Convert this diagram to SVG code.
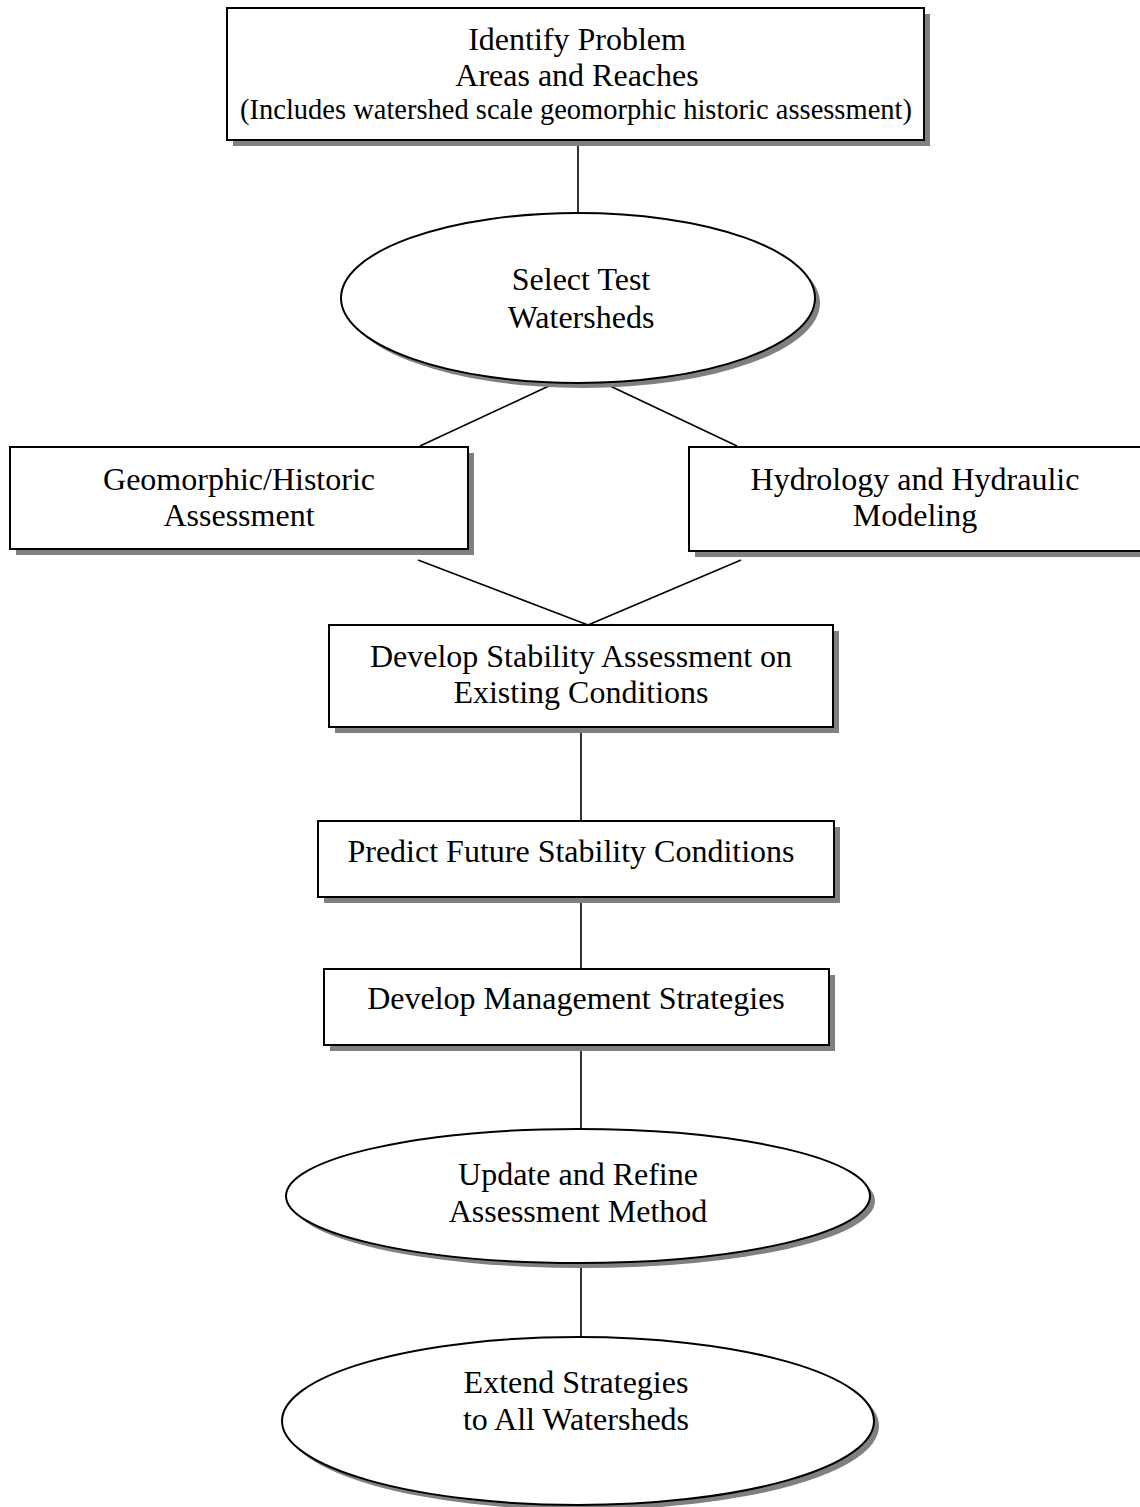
<svg xmlns="http://www.w3.org/2000/svg" width="1140" height="1507" viewBox="0 0 1140 1507">
<style>
.sh{fill:#808080;stroke:none}
.nd{fill:#fff;stroke:#000;stroke-width:2}
.t{font-family:"Liberation Serif","Times New Roman",serif;font-size:32px;fill:#000;text-anchor:middle}
.s{font-size:28.5px}
.c{stroke:#000;stroke-width:1.6;fill:none}
</style>
<rect width="1140" height="1507" fill="#fff"/>
<g id="connectors">
<line class="c" x1="578" y1="140" x2="578" y2="220"/>
<line class="c" x1="551" y1="385" x2="420" y2="446"/>
<line class="c" x1="608" y1="385" x2="737" y2="446"/>
<line class="c" x1="418" y1="560" x2="588" y2="625"/>
<line class="c" x1="741" y1="560" x2="588" y2="625"/>
<line class="c" x1="581" y1="733" x2="581" y2="821"/>
<line class="c" x1="581" y1="903" x2="581" y2="969"/>
<line class="c" x1="581" y1="1051" x2="581" y2="1130"/>
<line class="c" x1="581" y1="1268" x2="581" y2="1338"/>
</g>
<g id="n1">
<rect class="sh" x="233" y="14" width="697" height="132"/>
<rect class="nd" x="227" y="8" width="697" height="132"/>
<text class="t" x="577" y="50">Identify Problem</text>
<text class="t" x="577" y="86">Areas and Reaches</text>
<text class="t s" x="576" y="119">(Includes watershed scale geomorphic historic assessment)</text>
</g>
<g id="n2">
<ellipse class="sh" cx="583" cy="303" rx="237" ry="85"/>
<ellipse class="nd" cx="578" cy="298" rx="237" ry="85"/>
<text class="t" x="581" y="290">Select Test</text>
<text class="t" x="581" y="328">Watersheds</text>
</g>
<g id="n3">
<rect class="sh" x="16" y="453" width="458" height="102"/>
<rect class="nd" x="10" y="447" width="458" height="102"/>
<text class="t" x="239" y="490">Geomorphic/Historic</text>
<text class="t" x="239" y="526">Assessment</text>
</g>
<g id="n4">
<rect class="sh" x="695" y="453" width="460" height="104"/>
<rect class="nd" x="689" y="447" width="460" height="104"/>
<text class="t" x="915" y="490">Hydrology and Hydraulic</text>
<text class="t" x="915" y="526">Modeling</text>
</g>
<g id="n5">
<rect class="sh" x="335" y="631" width="504" height="102"/>
<rect class="nd" x="329" y="625" width="504" height="102"/>
<text class="t" x="581" y="667">Develop Stability Assessment on</text>
<text class="t" x="581" y="703">Existing Conditions</text>
</g>
<g id="n6">
<rect class="sh" x="324" y="827" width="516" height="76"/>
<rect class="nd" x="318" y="821" width="516" height="76"/>
<text class="t" x="571" y="862">Predict Future Stability Conditions</text>
</g>
<g id="n7">
<rect class="sh" x="330" y="975" width="505" height="76"/>
<rect class="nd" x="324" y="969" width="505" height="76"/>
<text class="t" x="576" y="1009">Develop Management Strategies</text>
</g>
<g id="n8">
<ellipse class="sh" cx="583" cy="1201" rx="292" ry="67"/>
<ellipse class="nd" cx="578" cy="1196" rx="292" ry="67"/>
<text class="t" x="578" y="1185">Update and Refine</text>
<text class="t" x="578" y="1222">Assessment Method</text>
</g>
<g id="n9">
<ellipse class="sh" cx="583" cy="1426" rx="296" ry="84"/>
<ellipse class="nd" cx="578" cy="1421" rx="296" ry="84"/>
<text class="t" x="576" y="1393">Extend Strategies</text>
<text class="t" x="576" y="1430">to All Watersheds</text>
</g>
</svg>
